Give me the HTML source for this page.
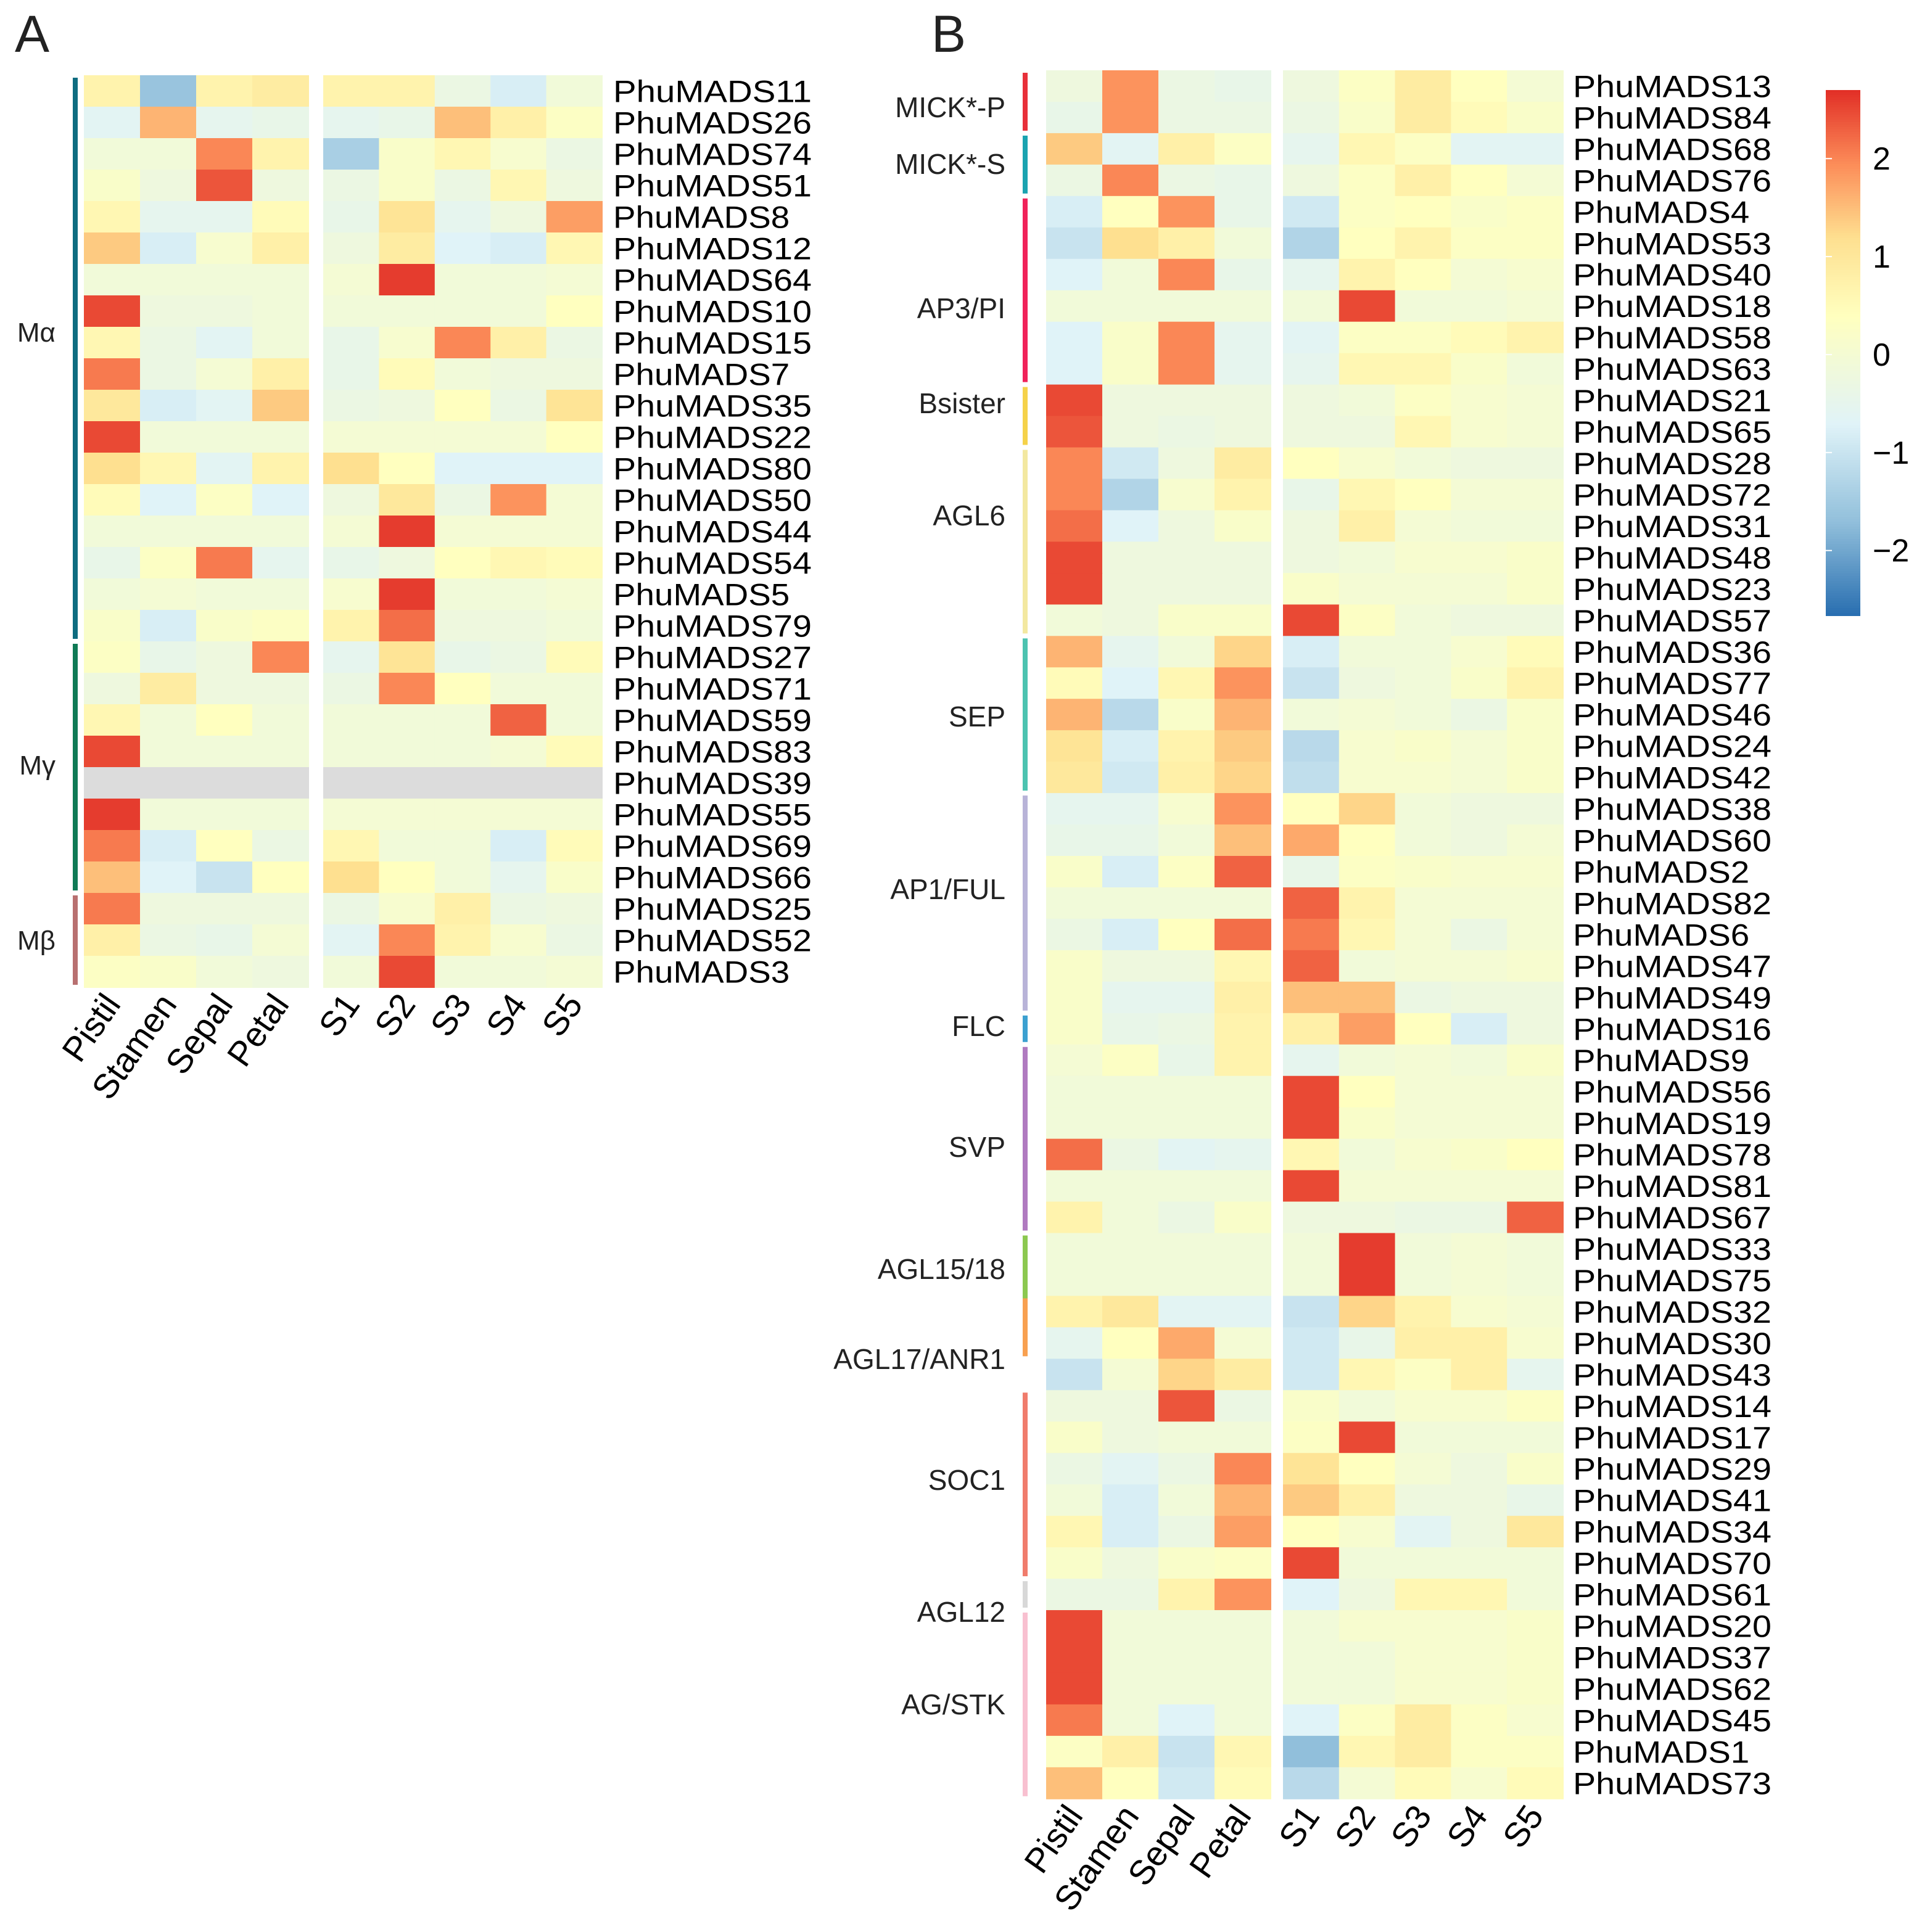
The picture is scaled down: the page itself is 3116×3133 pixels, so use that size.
<!DOCTYPE html>
<html><head><meta charset="utf-8">
<style>
html,body{margin:0;padding:0;background:#fff;}
svg{display:block;font-family:"Liberation Sans",sans-serif;}
</style></head>
<body>
<svg id="chart" xmlns="http://www.w3.org/2000/svg" width="3116" height="3133" viewBox="0 0 1558 1566.5">
<rect width="1558" height="1566.5" fill="#fff"/>
<text x="12" y="42" font-size="42" fill="#222">A</text>
<text x="755" y="42" font-size="42" fill="#222">B</text>
<g id="gA"></g>
<g id="gB"></g>
<g id="gLegend"></g>
</svg>
<script>
const columns = ["Pistil","Stamen","Sepal","Petal","S1","S2","S3","S4","S5"];
const rowsA = ["11","26","74","51","8","12","64","10","15","7","35","22","80","50","44","54","5","79","27","71","59","83","39","55","69","66","25","52","3"];
const valsA = [
[0.7,-1.6,0.7,0.9,0.7,0.7,-0.3,-0.8,-0.1],
[-0.6,1.6,-0.5,-0.4,-0.5,-0.4,1.5,0.8,0.3],
[-0.1,-0.1,2.0,0.7,-1.4,0.2,0.6,0.1,-0.3],
[0.2,-0.2,2.4,-0.2,-0.3,0.2,-0.3,0.6,-0.2],
[0.6,-0.5,-0.5,0.5,-0.4,1.1,-0.5,-0.2,1.8],
[1.4,-0.8,0.1,0.8,-0.2,0.9,-0.7,-0.8,0.6],
[-0.1,-0.1,-0.1,-0.1,0.0,2.6,-0.1,-0.1,0.0],
[2.5,-0.2,-0.2,-0.1,-0.1,-0.1,-0.1,-0.1,0.4],
[0.6,-0.3,-0.6,-0.1,-0.4,0.1,2.0,0.8,-0.3],
[2.1,-0.3,0.0,0.8,-0.4,0.5,-0.1,-0.2,-0.2],
[1.0,-0.8,-0.6,1.4,-0.3,-0.2,0.4,-0.3,1.1],
[2.5,-0.1,-0.1,-0.1,0.0,0.0,0.0,0.0,0.4],
[1.2,0.6,-0.6,0.7,1.2,0.4,-0.7,-0.7,-0.7],
[0.5,-0.7,0.3,-0.7,-0.2,1.0,-0.3,1.9,0.0],
[-0.1,-0.1,-0.1,-0.1,0.0,2.6,0.0,0.0,0.0],
[-0.4,0.3,2.1,-0.5,-0.4,-0.2,0.4,0.6,0.5],
[-0.1,0.0,-0.1,-0.1,0.1,2.6,-0.1,-0.1,0.0],
[0.2,-0.8,0.2,0.3,0.7,2.2,-0.2,-0.2,-0.1],
[0.3,-0.4,-0.2,2.0,-0.5,1.1,-0.4,-0.3,0.5],
[-0.2,0.9,-0.2,-0.2,-0.3,2.0,0.4,-0.1,-0.1],
[0.6,-0.1,0.4,-0.1,-0.1,-0.1,-0.1,2.3,-0.1],
[2.5,-0.1,-0.1,-0.1,-0.1,-0.1,-0.1,0.0,0.5],
[null,null,null,null,null,null,null,null,null],
[2.6,-0.1,-0.1,-0.1,0.0,0.0,0.0,0.0,0.0],
[2.1,-0.8,0.4,-0.3,0.6,-0.1,-0.1,-0.8,0.5],
[1.5,-0.7,-1.0,0.4,1.2,0.4,-0.1,-0.5,0.2],
[2.1,-0.2,-0.2,-0.2,-0.3,0.1,0.8,-0.3,-0.2],
[0.8,-0.3,-0.4,0.0,-0.6,2.0,0.7,0.1,-0.3],
[0.3,0.2,-0.1,-0.2,-0.1,2.5,-0.1,-0.1,0.0]];
const groupsA = ["Mα","Mγ","Mβ"];
const groupStartA = [0,18,26];
const groupEndA = [17,25,28];
const groupColorA = ["#0e6c80","#0f7a55","#b87070"];

const rowsB = ["13","84","68","76","4","53","40","18","58","63","21","65","28","72","31","48","23","57","36","77","46","24","42","38","60","2","82","6","47","49","16","9","56","19","78","81","67","33","75","32","30","43","14","17","29","41","34","70","61","20","37","62","45","1","73"];
const valsB = [
[-0.2,1.9,-0.3,-0.4,-0.2,0.3,0.9,0.4,0.0],
[-0.4,1.9,-0.3,-0.3,-0.3,0.2,0.9,0.5,0.2],
[1.4,-0.6,0.8,0.3,-0.5,0.6,0.3,-0.6,-0.6],
[-0.3,2.0,-0.3,-0.4,-0.2,0.3,0.8,0.4,0.0],
[-0.8,0.4,1.9,-0.4,-0.9,0.3,0.4,0.2,0.3],
[-1.0,1.2,0.8,-0.1,-1.3,0.4,0.7,0.3,0.3],
[-0.7,-0.1,2.0,-0.4,-0.5,0.7,0.4,0.0,0.1],
[-0.1,-0.1,-0.1,-0.1,-0.1,2.5,-0.1,-0.1,0.0],
[-0.7,0.2,2.0,-0.5,-0.6,0.3,0.3,0.5,0.7],
[-0.7,0.2,2.0,-0.5,-0.5,0.6,0.6,0.2,-0.1],
[2.5,-0.2,-0.2,-0.2,-0.2,-0.1,0.3,0.1,0.0],
[2.4,-0.2,-0.3,-0.2,-0.2,-0.2,0.6,0.1,0.0],
[2.0,-0.9,-0.2,0.9,0.4,0.1,-0.1,-0.2,-0.2],
[2.0,-1.3,0.1,0.7,-0.4,0.6,0.4,0.0,0.0],
[2.2,-0.7,-0.2,0.2,-0.2,0.8,0.0,-0.1,-0.1],
[2.5,-0.2,-0.2,-0.2,-0.2,-0.1,0.1,0.1,0.2],
[2.5,-0.2,-0.2,-0.2,0.2,0.0,0.0,0.0,0.2],
[-0.1,-0.2,0.2,0.2,2.5,0.3,-0.1,-0.2,-0.2],
[1.6,-0.5,-0.1,1.3,-0.8,-0.1,-0.1,0.1,0.5],
[0.5,-0.7,0.6,1.9,-1.0,-0.2,-0.1,0.2,0.7],
[1.6,-1.2,0.2,1.6,-0.1,0.0,-0.1,-0.3,0.2],
[1.1,-0.8,0.7,1.4,-1.2,0.1,0.2,0.0,0.2],
[1.0,-0.9,0.8,1.3,-1.1,0.1,0.1,0.0,0.2],
[-0.5,-0.5,0.1,1.9,0.4,1.3,-0.1,-0.2,-0.2],
[-0.4,-0.4,-0.1,1.5,1.7,0.4,-0.1,-0.2,0.0],
[0.2,-0.8,0.3,2.3,-0.4,0.3,0.2,0.1,0.1],
[-0.1,-0.1,-0.1,-0.1,2.3,0.7,0.0,0.0,0.0],
[-0.3,-0.8,0.4,2.2,2.1,0.6,0.0,-0.3,0.0],
[0.2,-0.2,-0.2,0.6,2.3,-0.1,0.0,0.0,0.1],
[0.2,-0.5,-0.5,0.8,1.5,1.5,-0.3,-0.2,-0.2],
[0.2,-0.4,-0.3,0.7,0.8,1.8,0.4,-0.8,-0.2],
[0.0,0.3,-0.4,0.7,-0.5,-0.1,0.0,-0.1,0.2],
[-0.1,-0.1,-0.1,-0.1,2.5,0.4,0.0,0.0,0.0],
[-0.1,-0.1,-0.1,-0.1,2.5,0.2,0.0,0.0,0.0],
[2.2,-0.3,-0.6,-0.5,0.6,-0.1,0.1,0.2,0.4],
[-0.1,-0.1,-0.1,-0.1,2.5,0.0,0.0,0.0,0.0],
[0.7,-0.1,-0.3,0.2,-0.2,-0.2,-0.3,-0.3,2.3],
[-0.1,-0.1,-0.1,-0.1,-0.1,2.6,-0.1,0.0,-0.1],
[-0.1,-0.1,-0.1,-0.1,-0.1,2.6,-0.1,0.0,-0.1],
[0.7,1.0,-0.6,-0.6,-1.0,1.3,0.7,0.1,0.0],
[-0.5,0.4,1.7,0.0,-0.9,-0.4,0.8,0.8,0.1],
[-1.0,0.0,1.3,0.9,-0.9,0.6,0.3,0.8,-0.5],
[-0.2,-0.2,2.4,-0.3,0.2,-0.1,0.1,0.1,0.3],
[0.2,-0.2,-0.1,-0.1,0.3,2.5,-0.1,-0.1,-0.1],
[-0.3,-0.6,-0.3,2.0,1.1,0.4,0.0,-0.2,0.2],
[-0.1,-0.8,-0.1,1.6,1.4,0.8,-0.2,-0.2,-0.4],
[0.6,-0.8,-0.3,1.8,0.4,0.1,-0.6,-0.2,1.0],
[0.2,-0.2,0.2,0.3,2.5,-0.1,-0.1,-0.1,-0.1],
[-0.3,-0.3,0.7,1.9,-0.7,-0.2,0.6,0.6,-0.1],
[2.5,-0.1,-0.1,-0.1,-0.1,0.1,0.1,0.1,0.2],
[2.5,-0.1,-0.1,-0.1,-0.1,-0.1,0.1,0.1,0.2],
[2.5,-0.1,-0.1,-0.1,-0.1,-0.1,0.1,0.1,0.2],
[2.1,-0.1,-0.7,-0.1,-0.7,0.3,0.9,0.3,0.1],
[0.3,0.8,-1.0,0.6,-1.7,0.6,0.9,0.3,0.3],
[1.5,0.4,-0.9,0.5,-1.2,0.0,0.5,0.1,0.5]];
const groupsB = ["MICK*-P","MICK*-S","AP3/PI","Bsister","AGL6","SEP","AP1/FUL","FLC","SVP","AGL15/18","AGL17/ANR1","SOC1","AGL12","AG/STK"];
const groupStartB = [0,2,4,10,12,18,23,30,31,37,39,42,48,49];
const groupEndB   = [1,3,9,11,17,22,29,30,36,39,40,47,48,54];
const groupColorB = ["#e8303a","#1aa3b0","#f0225a","#f5d24a","#f3e8a0","#4cc3b0","#b8b3d8","#3ca0d0","#b07ac0","#8cc850","#f8a050","#f07c6c","#d8d8d8","#f8c0d0"];
const legendTicks = [2,1,0,-1,-2];

const NS="http://www.w3.org/2000/svg";
const stops=[[-2.65,[40,110,176]],[-1.7,[145,191,219]],[-0.7,[224,243,248]],[0.4,[255,255,191]],[1.2,[254,224,144]],[1.95,[252,141,89]],[2.7,[226,48,39]]];
function color(v){
  if(v===null) return "#dcdcdc";
  if(v<=stops[0][0]) v=stops[0][0];
  if(v>=stops[stops.length-1][0]) v=stops[stops.length-1][0];
  for(let i=0;i<stops.length-1;i++){
    const a=stops[i],b=stops[i+1];
    if(v>=a[0]&&v<=b[0]){const t=(v-a[0])/(b[0]-a[0]);
      const c=a[1].map((x,k)=>Math.round(x+(b[1][k]-x)*t));
      return "rgb("+c.join(",")+")";}
  }
  return "#fff";
}
function mk(tag,attrs,parent){const e=document.createElementNS(NS,tag);for(const k in attrs)e.setAttribute(k,attrs[k]);parent.appendChild(e);return e;}

function drawPanel(g,rows,vals,cfg){
  const colX=c=> c<4 ? cfg.x1+c*cfg.cw1 : cfg.x2+(c-4)*cfg.cw2;
  const colW=c=> c<4 ? cfg.cw1 : cfg.cw2;
  const rowY=r=> cfg.y0+r*cfg.rh;
  rows.forEach((name,r)=>{
    vals[r].forEach((v,c)=>{
      const rc=mk("rect",{x:colX(c),y:rowY(r),width:colW(c)+0.5,height:cfg.rh+0.5,fill:color(v)},g);
      
      
    });
    const t=mk("text",{x:cfg.labelX,y:rowY(r)+cfg.rh/2+9,"font-size":25,fill:"#000","textLength":cfg.labelLen(name),"lengthAdjust":"spacingAndGlyphs"},g);
    t.textContent="PhuMADS"+name;
    
    
  });
  const yb=rowY(rows.length)+14;
  columns.forEach((cn,c)=>{
    const cx=colX(c)+colW(c)/2+8;
    const t=mk("text",{x:cx,y:yb,"font-size":28,fill:"#000","text-anchor":"end",transform:"rotate(-55 "+cx+" "+yb+")"},g);
    t.textContent=cn;
    
    
  });
  cfg.groups.forEach((gn,i)=>{
    const ys=rowY(cfg.gs[i])+2, ye=rowY(cfg.ge[i]+1)-2;
    const b=mk("rect",{x:cfg.barX,y:ys,width:4,height:ye-ys,fill:cfg.gc[i]},g);
    
    
    const t=mk("text",{x:cfg.barX-14,y:cfg.labelY[i]+8,"font-size":cfg.gfs,fill:"#222","text-anchor":"end"},g);
    t.textContent=gn;
    
    
  });
}
const lenFn = n => 161 * (7 + n.length) / 9;
drawPanel(document.getElementById("gA"),rowsA,valsA,{x1:68,cw1:45.5,x2:262,cw2:45.2,y0:61,rh:25.5,labelX:497,barX:59,groups:groupsA,gs:groupStartA,ge:groupEndA,gc:groupColorA,gfs:22,labelY:[269,620,762],labelLen:lenFn});
drawPanel(document.getElementById("gB"),rowsB,valsB,{x1:848,cw1:45.5,x2:1040,cw2:45.4,y0:57,rh:25.48,labelX:1275,barX:829,groups:groupsB,gs:groupStartB,ge:groupEndB,gc:groupColorB,gfs:23,labelY:[87,133,250,327,418,581,721,832,930,1029,1102,1200,1307,1382],labelLen:lenFn});

// legend
const gL=document.getElementById("gLegend");
const lx=1480,lw=28,ytop=73,ybot=498,vtop=2.7,vbot=-2.65;
const yOf=v=> ytop+(vtop-v)/(vtop-vbot)*(ybot-ytop);
for(let y=ytop;y<ybot;y+=2){
  const v=vtop-(y-ytop)/(ybot-ytop)*(vtop-vbot);
  const r=mk("rect",{x:lx,y:y,width:lw,height:2.5,fill:color(v)},gL);
  
  
}
legendTicks.forEach(v=>{
  const y=yOf(v);
  const l=mk("line",{x1:lx,x2:lx+5,y1:y,y2:y,stroke:"#fff","stroke-width":1},gL);
  
  
  const t=mk("text",{x:lx+38,y:y+9,"font-size":26,fill:"#000"},gL);
  t.textContent= v<0 ? "\u2212"+Math.abs(v) : String(v);
  
  
});
</script>
</body></html>
